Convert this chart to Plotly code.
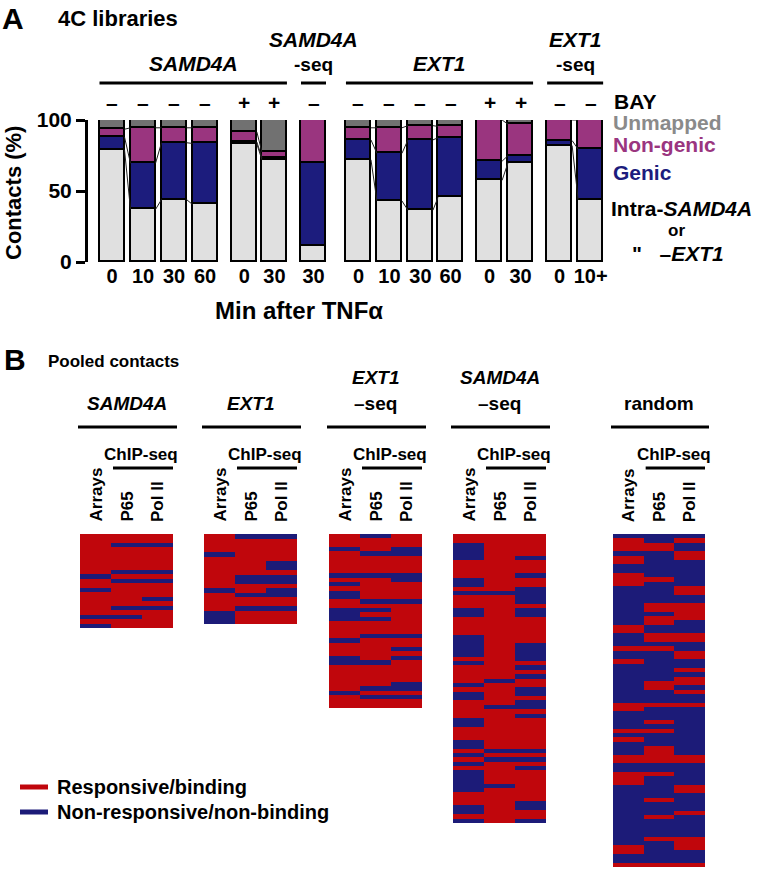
import plotly.graph_objects as go

W, H = 758, 870
def px(x): return x / W
def py(y): return 1 - y / H

FONT = "Liberation Sans, Arial, sans-serif"
RED = "#C0060C"
NAVY = "#1C1B78"
C_INTRA = "#E0E0E0"
C_GENIC = "#1C1C7D"
C_NONGENIC = "#9A357F"
C_UNMAPPED = "#717171"

# ---------------- Panel A data ----------------
times = ["0", "10", "30", "60", "0", "30", "30", "0", "10", "30", "60", "0", "30", "0", "10+"]
bay = ["–", "–", "–", "–", "+", "+", "–", "–", "–", "–", "–", "+", "+", "–", "–"]
intra = [79, 37, 44, 40.5, 83, 72, 11, 72, 43, 36.5, 45.5, 57.5, 70, 82, 44]
genic = [9, 32.5, 40, 43, 1.5, 1.5, 59, 14, 33.5, 49.5, 42, 13.5, 5, 3.5, 35.5]
nongenic = [5.5, 25, 10.5, 11, 7, 4, 30, 8.5, 18, 10, 8, 29, 22, 14.5, 20.5]
unmapped = [6.5, 5.5, 5.5, 5.5, 8.5, 22.5, 0, 5.5, 5.5, 4, 4.5, 0, 3, 0, 0]
# bars joined by connector lines (index pairs)
joined = [(0, 1), (1, 2), (2, 3), (4, 5), (7, 8), (8, 9), (9, 10), (11, 12), (13, 14)]
groups_A = [  # (label lines, first bar, last bar)
    (["<i>SAMD4A</i>"], 0, 5),
    (["<i>SAMD4A</i>", "-seq"], 6, 6),
    (["<i>EXT1</i>"], 7, 12),
    (["<i>EXT1</i>", "-seq"], 13, 14),
]

# layout positions of bars (units = bar pitch)
bar_pos = [0, 1, 2, 3, 4.27, 5.24, 6.5, 7.95, 8.95, 9.95, 10.92, 12.18, 13.18, 14.44, 15.44]
PITCH = 31.0
X0PIX = 112.0
BW = 25 / PITCH
def ux(x):  # unit -> pixel
    return X0PIX + x * PITCH

fig = go.Figure()

A_LEFT, A_RIGHT = 88, 612
A_TOP, A_BOT = 120, 262
xr = [(A_LEFT - X0PIX) / PITCH, (A_RIGHT - X0PIX) / PITCH]

for name, vals, col in [("Intra", intra, C_INTRA), ("Genic", genic, C_GENIC),
                        ("Non-genic", nongenic, C_NONGENIC), ("Unmapped", unmapped, C_UNMAPPED)]:
    fig.add_trace(go.Bar(x=bar_pos, y=vals, width=BW, marker=dict(color=col, line=dict(color="black", width=1.6)),
                         name=name, showlegend=False, xaxis="x", yaxis="y"))

# connector lines between cumulative boundaries
cx, cy = [], []
for i, j in joined:
    ci = [intra[i], intra[i] + genic[i], intra[i] + genic[i] + nongenic[i]]
    cj = [intra[j], intra[j] + genic[j], intra[j] + genic[j] + nongenic[j]]
    for a, b in zip(ci, cj):
        cx += [bar_pos[i] + BW / 2, bar_pos[j] - BW / 2, None]
        cy += [a, b, None]
fig.add_trace(go.Scatter(x=cx, y=cy, mode="lines", line=dict(color="#222", width=1),
                         showlegend=False, xaxis="x", yaxis="y", hoverinfo="skip"))

fig.update_layout(
    barmode="stack", bargap=0,
    xaxis=dict(domain=[px(A_LEFT), px(A_RIGHT)], range=xr, tickvals=bar_pos,
               ticktext=[f"<b>{t}</b>" for t in times], tickfont=dict(size=20, color="black"),
               showgrid=False, zeroline=False, showline=False, ticks="", anchor="y", automargin=False),
    yaxis=dict(domain=[py(A_BOT), py(A_TOP)], range=[0, 100], tickvals=[0, 50, 100],
               ticktext=["<b>0</b>", "<b>50</b>", "<b>100</b>"], tickfont=dict(size=21, color="black"),
               ticks="outside", ticklen=9, tickwidth=3, tickcolor="black", automargin=False,
               showline=True, linewidth=3, linecolor="black", showgrid=False, zeroline=False, anchor="x"),
)

ann = []
shapes = []
def text(x, y, s, size, color="black", xanchor="center", angle=0, yanchor="middle"):
    ann.append(dict(x=px(x), y=py(y), xref="paper", yref="paper", text=s, showarrow=False,
                    font=dict(size=size, color=color, family=FONT), xanchor=xanchor, yanchor=yanchor,
                    textangle=angle))
def hline(x0, x1, y, width=3, color="black"):
    shapes.append(dict(type="line", xref="paper", yref="paper", x0=px(x0), x1=px(x1), y0=py(y), y1=py(y),
                       line=dict(color=color, width=width), layer="below"))

text(13, 18, "<b>A</b>", 30)
text(56, 18, "<b>4C libraries</b>", 22, xanchor="left")
text(14, 193, "<b>Contacts (%)</b>", 22, angle=-90)
text(299, 310, "<b>Min after TNFα</b>", 24)

for lines, i0, i1 in groups_A:
    xl = ux(bar_pos[i0] - BW / 2)
    xrr = ux(bar_pos[i1] + BW / 2)
    xc = (xl + xrr) / 2
    hline(xl, xrr, 83)
    if len(lines) == 1:
        text(xc, 63, f"<b>{lines[0]}</b>", 21)
    else:
        text(xc, 40, f"<b>{lines[0]}</b>", 21)
        text(xc, 64, f"<b>{lines[1]}</b>", 19)

for p, s in zip(bar_pos, bay):
    text(ux(p), 102, f"<b>{s}</b>", 21)
text(612, 101, "<b>BAY</b>", 21, xanchor="left")
text(611, 123, "<b>Unmapped</b>", 21, color="#8A8A8A", xanchor="left")
text(611, 144, "<b>Non-genic</b>", 21, color=C_NONGENIC, xanchor="left")
text(611, 172, "<b>Genic</b>", 21, color=C_GENIC, xanchor="left")
text(609, 208, "<b>Intra-<i>SAMD4A</i></b>", 21, xanchor="left")
text(676, 230, "<b>or</b>", 17)
text(630, 253, "<b>\"   –<i>EXT1</i></b>", 21, xanchor="left")

# ---------------- Panel B data ----------------
heat_titles = [["<i>SAMD4A</i>"], ["<i>EXT1</i>"], ["<i>EXT1</i>", "–seq"], ["<i>SAMD4A</i>", "–seq"], ["random"]]
heat_cols = ["Arrays", "P65", "Pol II"]
heat_nrows = [21, 20, 40, 66, 77]
heat_default = [1, 1, 1, 1, 0]   # 1 = responsive/binding (red), 0 = non-responsive (navy)
# rows that differ from the default, per column (Arrays, P65, Pol II)
samd4a_flip = [[9, 12, 18, 20], [2, 8, 10, 16, 18], [2, 8, 10, 14, 16]]
ext1_flip = [[4, 12, 17, 18, 19], [0, 9, 10, 13, 16], [0, 6, 7, 9, 10, 12, 13, 16]]
ext1seq_flip = [[3, 9, 11, 13, 14, 17, 18, 19, 24, 28, 29, 36],
                [0, 4, 9, 15, 17, 19, 23, 29, 35, 37],
                [3, 4, 9, 10, 15, 23, 26, 28, 34, 35, 37]]
samd4aseq_flip = [[2, 3, 4, 5, 10, 11, 13, 17, 18, 23, 24, 25, 26, 27, 29, 34, 36, 37, 42, 43, 47, 48, 50, 52,
                   54, 55, 56, 57, 58, 62, 63, 65],
                  [13, 33, 39, 49, 51, 57],
                  [5, 9, 12, 13, 14, 15, 17, 18, 25, 26, 27, 28, 30, 32, 35, 36, 38, 39, 41, 49, 51, 53, 61, 62, 65]]
random_flip = [[1, 2, 3, 5, 6, 9, 10, 11, 21, 22, 26, 29, 39, 40, 45, 47, 51, 52, 55, 56, 57, 72, 73, 76],
               [2, 3, 10, 16, 17, 19, 20, 23, 24, 26, 34, 35, 39, 43, 45, 49, 50, 51, 52, 55, 61, 65, 70, 76],
               [1, 4, 5, 12, 13, 16, 17, 18, 19, 23, 24, 27, 28, 31, 33, 34, 36, 39, 51, 52, 58, 59, 64, 70, 71,
                72, 76]]
heat_flips = [samd4a_flip, ext1_flip, ext1seq_flip, samd4aseq_flip, random_flip]

# layout boxes (pixels): left, right, top, bottom
heat_boxes = [(80, 173, 534, 628), (204, 297, 534, 624), (329, 422, 534, 708),
              (453, 546, 534, 823), (613, 705, 534, 867)]

for k in range(5):
    n = heat_nrows[k]
    d = heat_default[k]
    z = [[d] * 3 for _ in range(n)]
    for c, rows in enumerate(heat_flips[k]):
        for r in rows:
            z[r][c] = 1 - d
    ax = k + 2
    l, r, t, b = heat_boxes[k]
    fig.add_trace(go.Heatmap(z=z, x=[0, 1, 2], y=list(range(n)), zmin=0, zmax=1,
                             colorscale=[[0, NAVY], [1, RED]], showscale=False,
                             xaxis=f"x{ax}", yaxis=f"y{ax}", hoverinfo="skip"))
    fig.layout[f"xaxis{ax}"] = dict(domain=[px(l), px(r)], range=[-0.5, 2.5], visible=False,
                                    anchor=f"y{ax}", automargin=False)
    fig.layout[f"yaxis{ax}"] = dict(domain=[py(b), py(t)], range=[n - 0.5, -0.5], visible=False,
                                    anchor=f"x{ax}", automargin=False)

    w = r - l
    xc = (l + r) / 2
    tl = heat_titles[k]
    if len(tl) == 1:
        text(xc, 404, f"<b>{tl[0]}</b>", 19)
    else:
        text(xc, 377, f"<b>{tl[0]}</b>", 19)
        text(xc, 404, f"<b>{tl[1]}</b>", 19)
    hline(l - 2, r + 4, 427)
    text(l + w * 0.66, 454, "<b>ChIP-seq</b>", 17)
    hline(l + w / 3 + 2, r, 468)
    for c, lab in enumerate(heat_cols):
        text(l + w * (c + 0.5) / 3, 524, f"<b>{lab}</b>", 17, angle=-90, yanchor="bottom")

text(15, 360, "<b>B</b>", 30)
text(46, 361, "<b>Pooled contacts</b>", 17, xanchor="left")
hline(20, 48, 787, width=5, color=RED)
hline(20, 48, 812, width=5, color=NAVY)
text(55, 787, "<b>Responsive/binding</b>", 20, xanchor="left")
text(55, 812, "<b>Non-responsive/non-binding</b>", 20, xanchor="left")

fig.update_layout(width=W, height=H, autosize=False,
                  margin=dict(l=0, r=0, t=0, b=0, pad=0, autoexpand=False),
                  paper_bgcolor="white", plot_bgcolor="white",
                  font=dict(family=FONT, color="black"),
                  annotations=ann, shapes=shapes)
fig.write_html("out.html", config={"displayModeBar": False},
               post_script="document.body.style.margin='0px';document.body.style.overflow='hidden';")
